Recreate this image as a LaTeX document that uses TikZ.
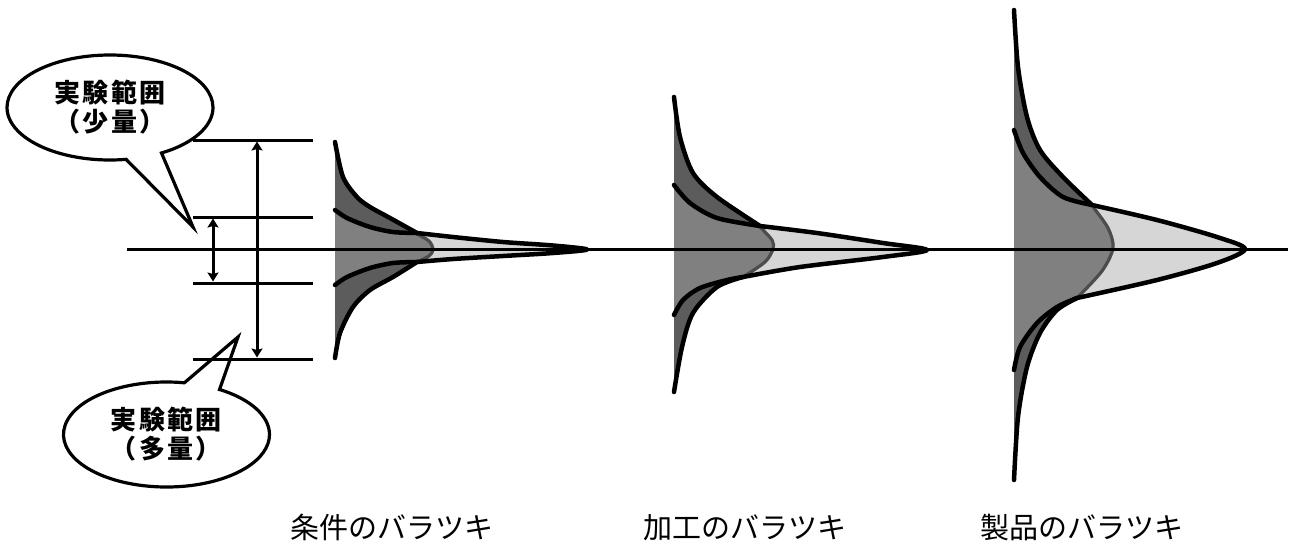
\documentclass[tikz,border=0pt]{standalone}
\usepackage{fontspec}
\usetikzlibrary{arrows.meta,shapes.callouts}
\newfontfamily\jp{Noto Sans CJK JP}
\newfontfamily\jpcall[LetterSpace=9]{Noto Sans CJK JP}
\definecolor{dk}{gray}{0.36}
\definecolor{md}{gray}{0.5}
\definecolor{lt}{gray}{0.84}
\definecolor{bumpc}{gray}{0.3}
\begin{document}
\begin{tikzpicture}[x=1pt,y=-1pt,
  curveline/.style={line width=4.5pt,line cap=round,line join=round},
  bumpline/.style={line width=3.2pt,draw=bumpc},
  hline/.style={line width=3pt},
  dimarrow/.style={line width=3pt,{Stealth[length=9pt,width=11pt,inset=1.5pt]}-{Stealth[length=9pt,width=11pt,inset=1.5pt]}},
  bubble/.style={ellipse callout,draw,line width=3.2pt,minimum width=206pt,minimum height=105pt,inner sep=0pt,callout pointer arc=21,align=center,font=\jpcall\bfseries\fontsize{26}{29}\selectfont},
  caption/.style={font=\jp\fontsize{29}{30}\selectfont,inner sep=0pt}]
\useasboundingbox (0,0) rectangle (1289,544);

% ---------- distribution 1 ----------
\fill[dk] plot[smooth] coordinates {(335,142) (343,177) (357,197) (370,207) (390,218) (417,233)}
  -- plot[smooth] coordinates {(417,233) (453,237) (503,242) (553,245.5) (587,249.5) (553,253) (503,256) (453,259) (417,262)}
  -- plot[smooth] coordinates {(417,262) (393,277) (370,290) (353,307) (340,333) (335,358)} -- cycle;
\fill[lt] plot[smooth] coordinates {(335,210) (347,218) (370,227) (393,232) (417,233)}
  -- plot[smooth] coordinates {(417,233) (453,237) (503,242) (553,245.5) (587,249.5) (553,253) (503,256) (453,259) (417,262)}
  -- plot[smooth] coordinates {(417,262) (393,263) (370,268) (347,277) (335,285)} -- cycle;
\fill[md] plot[smooth] coordinates {(335,210) (347,218) (370,227) (393,232) (417,233)}
  -- plot[smooth] coordinates {(417,234) (429,241) (433,249.5) (429,256) (417,262)}
  -- plot[smooth] coordinates {(417,262) (393,263) (370,268) (347,277) (335,285)} -- cycle;
\draw[bumpline] plot[smooth] coordinates {(417,234) (429,241) (433,249.5) (429,256) (417,262)};
\draw[curveline] plot[smooth] coordinates {(335,142) (343,177) (357,197) (370,207) (390,218) (417,233)}
  -- plot[smooth] coordinates {(417,233) (453,237) (503,242) (553,245.5) (587,249.5) (553,253) (503,256) (453,259) (417,262)}
  -- plot[smooth] coordinates {(417,262) (393,277) (370,290) (353,307) (340,333) (335,358)};
\draw[curveline] plot[smooth] coordinates {(335,210) (347,218) (370,227) (393,232) (417,233)};
\draw[curveline] plot[smooth] coordinates {(417,262) (393,263) (370,268) (347,277) (335,285)};

% ---------- distribution 2 ----------
\fill[dk] plot[smooth] coordinates {(674,97) (680,137) (693,173) (717,197) (760,226)}
  -- plot[smooth] coordinates {(760,226) (817,233) (883,243) (927,250) (883,257) (800,267) (743,277)}
  -- plot[smooth] coordinates {(743,277) (717,287) (693,313) (682,347) (674,392)} -- cycle;
\fill[lt] plot[smooth] coordinates {(674,185) (690,203) (717,218) (760,226)}
  -- plot[smooth] coordinates {(760,226) (817,233) (883,243) (927,250) (883,257) (800,267) (743,277)}
  -- plot[smooth] coordinates {(743,277) (727,280) (700,288) (683,300) (674,315)} -- cycle;
\fill[md] plot[smooth] coordinates {(674,185) (690,203) (717,218) (760,226)}
  -- plot[smooth] coordinates {(760,227) (772,240) (773,249) (765,262) (743,277)}
  -- plot[smooth] coordinates {(743,277) (727,280) (700,288) (683,300) (674,315)} -- cycle;
\draw[bumpline] plot[smooth] coordinates {(760,227) (772,240) (773,249) (765,262) (743,277)};
\draw[curveline] plot[smooth] coordinates {(674,97) (680,137) (693,173) (717,197) (760,226)}
  -- plot[smooth] coordinates {(760,226) (817,233) (883,243) (927,250) (883,257) (800,267) (743,277)}
  -- plot[smooth] coordinates {(743,277) (717,287) (693,313) (682,347) (674,392)};
\draw[curveline] plot[smooth] coordinates {(674,185) (690,203) (717,218) (760,226)};
\draw[curveline] plot[smooth] coordinates {(743,277) (727,280) (700,288) (683,300) (674,315)};

% ---------- distribution 3 ----------
\fill[dk] plot[smooth] coordinates {(1014,10) (1018,67) (1027,117) (1040,150) (1063,177) (1092,205)}
  -- plot[smooth] coordinates {(1092,205) (1157,220) (1217,237) (1245,249) (1217,263) (1157,280) (1077,298)}
  -- plot[smooth] coordinates {(1077,298) (1057,310) (1040,333) (1027,367) (1018,417) (1014,480)} -- cycle;
\fill[lt] plot[smooth] coordinates {(1014,130) (1023,153) (1040,177) (1063,197) (1092,205)}
  -- plot[smooth] coordinates {(1092,205) (1157,220) (1217,237) (1245,249) (1217,263) (1157,280) (1077,298)}
  -- plot[smooth] coordinates {(1077,298) (1057,307) (1037,323) (1020,347) (1014,370)} -- cycle;
\fill[md] plot[smooth] coordinates {(1014,130) (1023,153) (1040,177) (1063,197) (1092,205)}
  -- plot[smooth] coordinates {(1093,207) (1108,228) (1113,248) (1102,271) (1077,298)}
  -- plot[smooth] coordinates {(1077,298) (1057,307) (1037,323) (1020,347) (1014,370)} -- cycle;
\draw[bumpline] plot[smooth] coordinates {(1093,207) (1108,228) (1113,248) (1102,271) (1077,298)};
\draw[curveline] plot[smooth] coordinates {(1014,10) (1018,67) (1027,117) (1040,150) (1063,177) (1092,205)}
  -- plot[smooth] coordinates {(1092,205) (1157,220) (1217,237) (1245,249) (1217,263) (1157,280) (1077,298)}
  -- plot[smooth] coordinates {(1077,298) (1057,310) (1040,333) (1027,367) (1018,417) (1014,480)};
\draw[curveline] plot[smooth] coordinates {(1014,130) (1023,153) (1040,177) (1063,197) (1092,205)};
\draw[curveline] plot[smooth] coordinates {(1077,298) (1057,307) (1037,323) (1020,347) (1014,370)};

% ---------- axis ----------
\coordinate (axL) at (127,249.5);
\coordinate (axR) at (1288,249.5);
\draw[hline] (axL) -- (axR);

% ---------- callouts ----------
\coordinate (p1) at (193,227);
\coordinate (p2) at (238,337);
\node[bubble,callout absolute pointer={(p1)}] (c1) at (110,107.5) {実験範囲\\（少量）};
\node[bubble,callout absolute pointer={(p2)}] (c2) at (166.5,434.5) {実験範囲\\（多量）};

% ---------- range lines and arrows ----------
\coordinate (h1l) at (193,140); \coordinate (h1r) at (313,140);
\coordinate (h2l) at (193,217); \coordinate (h2r) at (313,217);
\coordinate (h3l) at (193,283); \coordinate (h3r) at (313,283);
\coordinate (h4l) at (193,359); \coordinate (h4r) at (313,359);
\draw[hline] (h1l) -- (h1r);
\draw[hline] (h2l) -- (h2r);
\draw[hline] (h3l) -- (h3r);
\draw[hline] (h4l) -- (h4r);
\coordinate (bigT) at (257,141.5); \coordinate (bigB) at (257,357.5);
\coordinate (smT) at (213,218.5); \coordinate (smB) at (213,281.5);
\draw[dimarrow] (bigB) -- (bigT);
\draw[dimarrow] (smB) -- (smT);

% ---------- captions ----------
\node[caption] (l1) at (392,527.5) {条件のバラツキ};
\node[caption] (l2) at (745,527.5) {加工のバラツキ};
\node[caption] (l3) at (1082,527.5) {製品のバラツキ};
\end{tikzpicture}
\end{document}
